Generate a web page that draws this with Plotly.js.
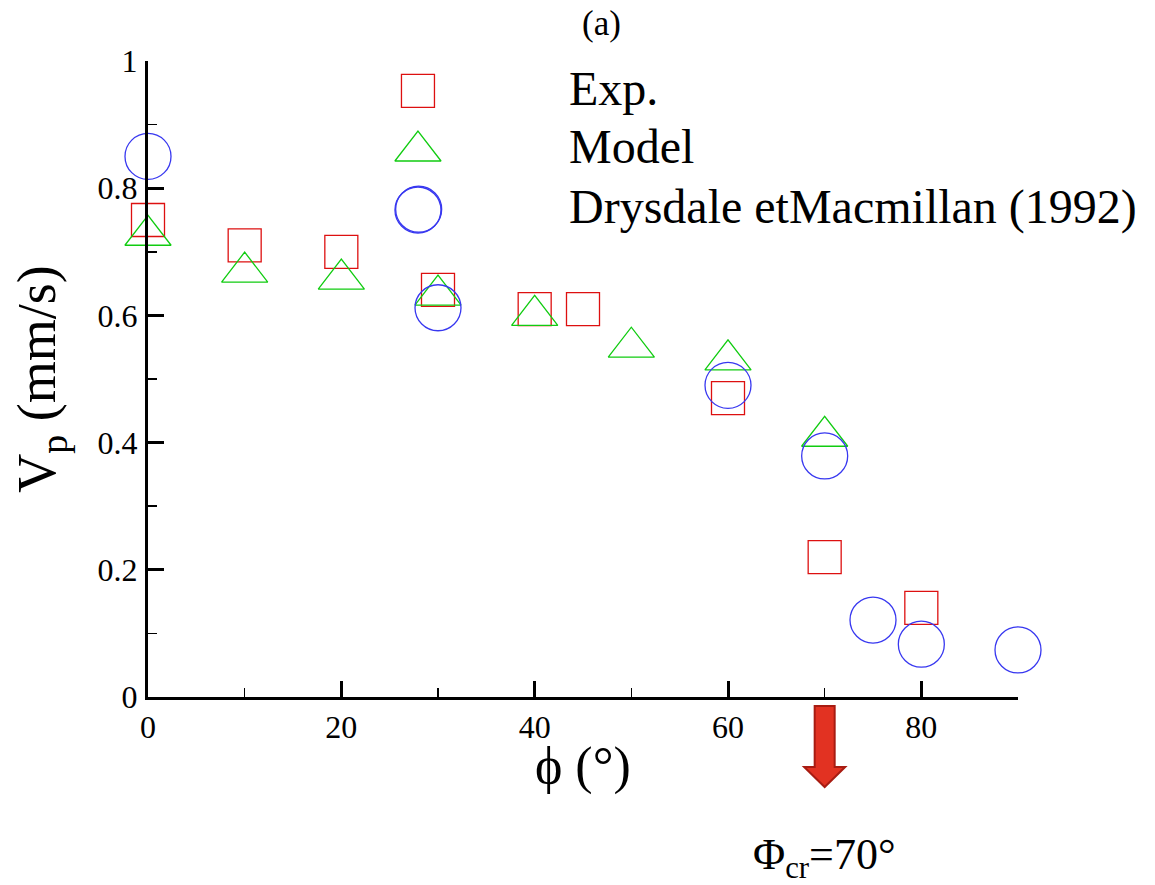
<!DOCTYPE html>
<html><head><meta charset="utf-8">
<script src="https://cdn.plot.ly/plotly-3.0.1.min.js"></script>
<style>html,body{margin:0;padding:0;background:#fff}</style>
</head><body><div id="chart" style="width:1155px;height:885px"></div>
<script>
// ---- data ----
const seriesNames = ["Exp.", "Model", "Drysdale etMacmillan (1992)"];
const expPhi   = [0, 10, 20, 30, 40, 45, 60, 70, 80];
const expVp    = [0.75, 0.71, 0.70, 0.64, 0.61, 0.61, 0.47, 0.22, 0.14];
const modelPhi = [0, 10, 20, 30, 40, 50, 60, 70];
const modelVp  = [0.726, 0.668, 0.657, 0.632, 0.60, 0.55, 0.53, 0.41];
const drysPhi  = [0, 28, 30, 60, 70, 75, 80, 90];
const drysVp   = [0.85, 0.767, 0.612, 0.49, 0.379, 0.121, 0.083, 0.074];
const criticalPhi = 70;
const criticalLabel = "Φ<sub>cr</sub>=70°";
const panelLabel = "(a)";
const xTitle = "ϕ (°)";
const yTitle = "V<sub>p</sub> (mm/s)";

// ---- style ----
const FONT = "Liberation Serif, Times New Roman, Times, serif";
const colors = ["#dd1010", "#10cc10", "#3838f0"];
const symbols = ["square-open", "triangle-up-open", "circle-open"];
const sizes = [33, 40, 46];

function mk(i, x, y, xa, ya) {
  return {
    x: x, y: y, type: "scatter", mode: "markers", name: seriesNames[i],
    xaxis: xa, yaxis: ya, cliponaxis: false, hoverinfo: "skip", showlegend: false,
    marker: {symbol: symbols[i], size: sizes[i], color: colors[i], line: {color: colors[i], width: 1.3}}
  };
}
const traces = [
  mk(0, expPhi, expVp, "x", "y"),
  mk(1, modelPhi, modelVp, "x", "y"),
  mk(2, drysPhi, drysVp, "x", "y")
];
// legend keys (decoration, on a hidden overlay axis in 0..1 units)
const keyX = 0.3103, keyY = [0.953, 0.8585, 0.7657];
for (let i = 0; i < 3; i++) traces.push(mk(i, [keyX], [keyY[i]], "x2", "y2"));

const textY = [0.957, 0.866, 0.770];
const annotations = seriesNames.map((n, i) => ({
  text: n, xref: "paper", yref: "paper", x: 0.4816, y: textY[i],
  xanchor: "left", yanchor: "middle", showarrow: false, font: {size: 48, family: FONT, color: "black"}
}));
annotations.push({
  text: criticalLabel, xref: "x", yref: "paper", x: criticalPhi, y: -0.252,
  xanchor: "center", yanchor: "middle", showarrow: false, font: {size: 44, family: FONT, color: "black"}
});
// x-axis title
annotations.push({
  text: xTitle, xref: "paper", yref: "paper", x: 0.5, y: -0.108,
  xanchor: "center", yanchor: "middle", showarrow: false, font: {size: 52, family: FONT, color: "black"}
});

const shapes = [{
  type: "path", xref: "x", xsizemode: "pixel", xanchor: criticalPhi, yref: "paper",
  path: "M-10,-0.0142 L10,-0.0142 L10,-0.1101 L20.5,-0.1101 L0,-0.1415 L-20.5,-0.1101 L-10,-0.1101 Z",
  fillcolor: "#e23222", line: {color: "#a81c12", width: 2}
}];

const axisCommon = {
  showline: true, linewidth: 3, linecolor: "black", zeroline: false, showgrid: false,
  ticks: "inside", ticklen: 16, tickwidth: 3, tickcolor: "black",
  tickfont: {size: 32, family: FONT, color: "black"}, fixedrange: true
};
const layout = {
  width: 1155, height: 885,
  margin: {l: 148, r: 137, t: 61, b: 188},
  paper_bgcolor: "white", plot_bgcolor: "white",
  showlegend: false,
  font: {family: FONT, color: "black"},
  title: {text: panelLabel, x: 602 / 1155, xanchor: "center", xref: "paper", y: 0.974, yanchor: "middle", yref: "container", font: {size: 35, family: FONT}},
  xaxis: Object.assign({}, axisCommon, {
    range: [0, 90], tick0: 0, dtick: 20, ticklabelstandoff: 0,
    minor: {ticks: "inside", ticklen: 9, tickwidth: 1.5, tickcolor: "black", dtick: 10, tick0: 0, showgrid: false}
  }),
  yaxis: Object.assign({}, axisCommon, {
    range: [0, 1], tick0: 0, dtick: 0.2, ticklabelstandoff: 1,
    minor: {ticks: "inside", ticklen: 9, tickwidth: 1.5, tickcolor: "black", dtick: 0.1, tick0: 0, showgrid: false},
    title: {text: yTitle, font: {size: 54, family: FONT}, standoff: 25}
  }),
  xaxis2: {overlaying: "x", range: [0, 1], visible: false, fixedrange: true},
  yaxis2: {overlaying: "y", range: [0, 1], visible: false, fixedrange: true},
  annotations: annotations,
  shapes: shapes
};
Plotly.newPlot("chart", traces, layout, {displayModeBar: false, staticPlot: true});
</script>
</body></html>
